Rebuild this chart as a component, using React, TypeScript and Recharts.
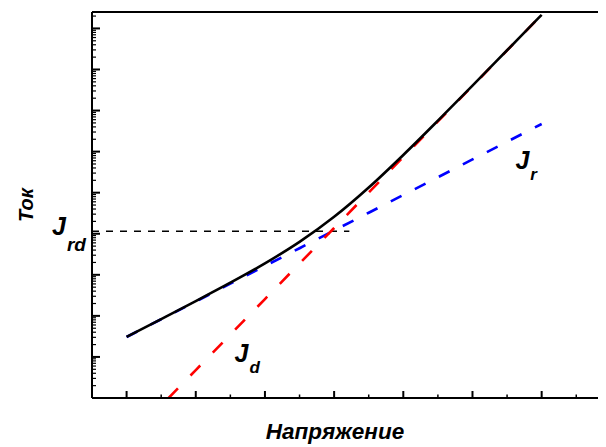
import React from 'react';
import { ComposedChart, Line, XAxis, YAxis, ReferenceLine, ReferenceDot } from 'recharts';

// Voltage grid (arbitrary units, major x ticks at integers)
const voltage = [0, 0.5, 1, 1.5, 2, 2.5, 3, 3.5, 4, 4.5, 5, 5.5, 6];
// Total current (black solid)
const currentTotal = [30.7, 83.5, 229, 642, 1898, 6324, 25820, 133500, 829000, 5.67e6, 4.04e7, 2.94e8, 2.145e9];
// Recombination current Jr (blue dashed)
const currentJr = [30.6, 82.8, 224, 607, 1641, 4440, 12020, 32500, 87900, 237700, 644000, 1.74e6, 4.71e6];
// Diffusion current Jd (red dashed)
const currentJd = [null, 0.653, 4.79, 35.1, 257, 1884, 13800, 101000, 741000, 5.43e6, 3.98e7, 2.92e8, 2.14e9];

const jrdCurrent = 11500;
const jrdLineEnd = 3.22;
const jdLabelPos = { v: 1.56, j: 7.5 };
const jrLabelPos = { v: 5.62, j: 3.78e5 };

const xDomain = [-0.5, 6.93];
const yDomain = [1, 2.512e9];
const xTicks = [0, 0.5, 1, 1.5, 2, 2.5, 3, 3.5, 4, 4.5, 5, 5.5, 6, 6.5];
const yDecades = [1, 10, 100, 1e3, 1e4, 1e5, 1e6, 1e7, 1e8, 1e9];
const yMinorFactors = [2, 3, 4, 5, 6, 7, 8, 9];

const xTitle = 'Напряжение';
const yTitle = 'Ток';

const yTicks: number[] = [];
yDecades.forEach((d) => {
  yTicks.push(d);
  yMinorFactors.forEach((f) => {
    if (d * f <= yDomain[1]) yTicks.push(d * f);
  });
});

const data = voltage.map((v, i) => ({
  v,
  total: currentTotal[i],
  jr: currentJr[i],
  jd: currentJd[i],
}));

const FONT = '"Liberation Sans", Arial, sans-serif';

const YTick = (props: any) => {
  const { x, y, payload } = props;
  const lg = Math.log10(payload.value);
  const major = Math.abs(lg - Math.round(lg)) < 1e-6;
  return (
    <line x1={x} x2={x + (major ? 8 : 4)} y1={y} y2={y} stroke="#000" strokeWidth={major ? 2 : 1.2} />
  );
};

const XTick = (props: any) => {
  const { x, y, payload } = props;
  const major = Math.abs(payload.value - Math.round(payload.value)) < 1e-6;
  return (
    <line x1={x} x2={x} y1={y} y2={y - (major ? 7 : 3.5)} stroke="#000" strokeWidth={major ? 2 : 1.5} />
  );
};

const JLabel = (props: any) => {
  const { viewBox, sub, dx = 0, dy = 0, subDy = 11, subSize = 17 } = props;
  if (!viewBox) return null;
  return (
    <text
      x={viewBox.x + dx}
      y={viewBox.y + dy}
      fontFamily={FONT}
      fontWeight="bold"
      fontStyle="italic"
      fontSize={25}
      fill="#000"
    >
      <tspan>J</tspan>
      <tspan fontSize={subSize} dx={1} dy={subDy}>{sub}</tspan>
    </text>
  );
};

const XTitle = (props: any) => {
  const { viewBox } = props;
  if (!viewBox) return null;
  return (
    <text
      x={viewBox.x + 243}
      y={viewBox.y + 41}
      textAnchor="middle"
      fontFamily={FONT}
      fontWeight="bold"
      fontStyle="italic"
      fontSize={22.5}
      fill="#000"
    >
      {xTitle}
    </text>
  );
};

const YTitle = (props: any) => {
  const { viewBox } = props;
  if (!viewBox) return null;
  const cx = viewBox.x + 18;
  const cy = viewBox.y + viewBox.height / 2;
  return (
    <text
      x={cx}
      y={cy}
      transform={`rotate(-90, ${cx}, ${cy})`}
      textAnchor="middle"
      dominantBaseline="central"
      fontFamily={FONT}
      fontWeight="bold"
      fontStyle="italic"
      fontSize={20}
      fill="#000"
    >
      {yTitle}
    </text>
  );
};

export default function App() {
  return (
    <ComposedChart
      width={598}
      height={439}
      data={data}
      margin={{ top: 4, right: 0, bottom: 0, left: 0 }}
      style={{ background: '#fff' }}
    >
      <XAxis
        dataKey="v"
        type="number"
        domain={xDomain}
        allowDataOverflow
        ticks={xTicks}
        interval={0}
        tickSize={0}
        tickMargin={0}
        tickLine={false}
        tick={<XTick />}
        axisLine={{ stroke: '#000', strokeWidth: 2 }}
        height={49}
        label={<XTitle />}
      />
      <YAxis
        type="number"
        scale="log"
        domain={yDomain}
        allowDataOverflow
        ticks={yTicks}
        interval={0}
        tickSize={0}
        tickMargin={0}
        tickLine={false}
        tick={<YTick />}
        axisLine={{ stroke: '#000', strokeWidth: 2 }}
        width={84}
        label={<YTitle />}
      />
      <ReferenceLine y={yDomain[1]} stroke="#000" strokeWidth={2} />
      <ReferenceLine
        segment={[
          { x: xDomain[0], y: jrdCurrent },
          { x: jrdLineEnd, y: jrdCurrent },
        ]}
        stroke="#000"
        strokeWidth={1.5}
        strokeDasharray="7 7"
        label={<JLabel sub="rd" dx={-40} dy={4} subDy={16} subSize={19} />}
      />
      <Line
        dataKey="jr"
        stroke="#0000ff"
        strokeWidth={2.6}
        strokeDasharray="12 15"
        dot={false}
        isAnimationActive={false}
        type="linear"
      />
      <Line
        dataKey="jd"
        stroke="#ff0000"
        strokeWidth={2.6}
        strokeDasharray="14 18"
        strokeDashoffset={22}
        dot={false}
        isAnimationActive={false}
        type="linear"
        connectNulls
      />
      <Line
        dataKey="total"
        stroke="#000"
        strokeWidth={2.6}
        dot={false}
        isAnimationActive={false}
        type="monotone"
      />
      <ReferenceDot
        x={jdLabelPos.v}
        y={jdLabelPos.j}
        r={0}
        fill="none"
        stroke="none"
        label={<JLabel sub="d" />}
      />
      <ReferenceDot
        x={jrLabelPos.v}
        y={jrLabelPos.j}
        r={0}
        fill="none"
        stroke="none"
        label={<JLabel sub="r" />}
      />
    </ComposedChart>
  );
}
